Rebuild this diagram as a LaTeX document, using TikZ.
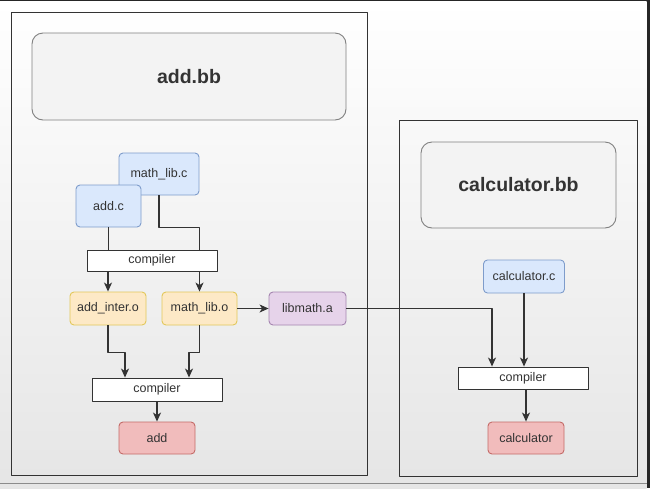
\documentclass[tikz,border=0pt]{standalone}
\usepackage{fontspec}
\setmainfont{Liberation Sans}
\usetikzlibrary{arrows.meta}
\definecolor{ink}{HTML}{333333}
\definecolor{bluefill}{HTML}{DAE8FC}
\definecolor{bluedraw}{HTML}{7E9CCB}
\definecolor{yelfill}{HTML}{FDE9C6}
\definecolor{yeldraw}{HTML}{E2C85A}
\definecolor{purfill}{HTML}{E6D3EA}
\definecolor{purdraw}{HTML}{A585B0}
\definecolor{redfill}{HTML}{F1BCBC}
\definecolor{reddraw}{HTML}{C46B68}
\definecolor{titfill}{HTML}{F3F3F3}
\definecolor{titdraw}{HTML}{808080}
\tikzset{
  file/.style={draw, rounded corners=4pt, line width=0.9pt, text=ink, font=\fontsize{12.5}{15}\selectfont, inner sep=0pt},
  src/.style={file, fill=bluefill, draw=bluedraw},
  obj/.style={file, fill=yelfill, draw=yeldraw, minimum height=33pt},
  lib/.style={file, fill=purfill, draw=purdraw, minimum height=33pt},
  bin/.style={file, fill=redfill, draw=reddraw, minimum width=76pt, minimum height=32pt},
  comp/.style={draw=ink, fill=white, line width=0.9pt, text=ink, font=\fontsize{12.5}{15}\selectfont, minimum width=130pt, minimum height=22pt, inner sep=0pt},
  title/.style={draw=titdraw, fill=titfill, rounded corners=11pt, line width=0.9pt, text=ink, font=\fontsize{19.5}{23}\selectfont\bfseries, inner sep=0pt},
  wire/.style={draw=ink, line width=1.1pt},
}
\begin{document}
\begin{tikzpicture}[x=1pt, y=-1pt, >={Stealth[length=9pt,width=8pt,inset=2.5pt]}, line join=round]
\useasboundingbox (0,0) rectangle (650,488);
\fill[black!85] (0,0) rectangle (650,488);
\shade[top color=white, middle color=white, bottom color=black!10] (0,1.5) rectangle (646.5,488);
\draw[black!45, line width=0.8pt] (0,483.5) -- (646.5,483.5);
% containers
\draw[ink, line width=1pt] (11,12) rectangle (367,475);
\draw[ink, line width=1pt] (399,120) rectangle (637,476);
\node[title, minimum width=314pt, minimum height=87pt] (addbb) at (189,76.5) {add.bb};
\node[title, minimum width=195pt, minimum height=86pt] (calcbb) at (518.5,185) {calculator.bb};
% add.bb
\node[src, minimum width=80pt, minimum height=42pt] (mathlibc) at (159,174) {math\_lib.c};
\node[src, minimum width=65pt, minimum height=42pt] (addc) at (108.5,206) {add.c};
\node[comp, minimum height=21pt] (compA) at (152,260.5) {compiler};
\node[obj, minimum width=76pt] (addinter) at (108,308.5) {add\_inter.o};
\node[obj, minimum width=75pt] (mathlibo) at (199.5,308.5) {math\_lib.o};
\node[lib, minimum width=77pt] (libmath) at (307.5,308.5) {libmath.a};
\node[comp, minimum height=23pt] (compB) at (157,389.5) {compiler};
\node[bin] (add) at (157,438) {add};
% calculator.bb
\node[src, minimum width=81pt, minimum height=33pt] (calcc) at (524,276.5) {calculator.c};
\node[comp] (compC) at (523,378) {compiler};
\node[bin] (calc) at (526,438) {calculator};
% connectors
\draw[wire] (addc.south) -- (addc |- compA.north);
\draw[wire] (mathlibc.south) |- (mathlibo |- addc.south) -- (mathlibo |- compA.north);
\draw[wire,->] (addinter |- compA.south) -- (addinter.north);
\draw[wire,->] (mathlibo |- compA.south) -- (mathlibo.north);
\draw[wire,->] (mathlibo.east) -- (libmath.west);
\draw[wire,->] (addinter.south) -- ++(0,27) -| ([xshift=-32pt]compB.north);
\draw[wire,->] (mathlibo.south) -- ++(0,27) -| ([xshift=32pt]compB.north);
\draw[wire,->] (compB.south) -- (add.north);
\draw[wire,->] (libmath.east) -| ([xshift=-31pt]compC.north);
\draw[wire,->] (calcc.south) -- (calcc |- compC.north);
\draw[wire,->] (calc |- compC.south) -- (calc.north);
\end{tikzpicture}
\end{document}
